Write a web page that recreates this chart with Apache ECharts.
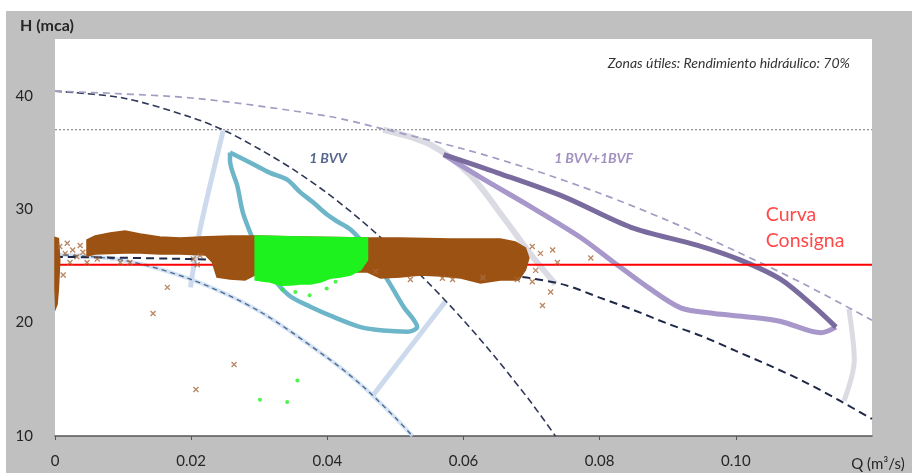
<!DOCTYPE html>
<html>
<head>
<meta charset="utf-8">
<script src="https://cdn.jsdelivr.net/npm/echarts@6/dist/echarts.min.js"></script>
<style>
  html, body { margin: 0; padding: 0; background: #fff; }
  #chart { width: 912px; height: 473px; }
</style>
</head>
<body>
<div id="chart"></div>
<script>
// ---- Axis ticks ----
const xTicks = [0, 0.02, 0.04, 0.06, 0.08, 0.10];
const xTickLabels = ['0', '0.02', '0.04', '0.06', '0.08', '0.10'];
const yTicks = [10, 20, 30, 40];

// ---- Pump curves [Q (m3/s), H (mca)] ----
const curve1BVVmax = [[0,40.4],[0.01,39.8],[0.02,38.1],[0.025,36.9],[0.03,35.3],[0.035,33.5],[0.04,31.4],[0.045,29.0],[0.05,26.3],[0.055,23.4],[0.06,20.2],[0.065,16.7],[0.07,12.9],[0.0735,10]];
const curveParMax = [[0,40.4],[0.02,39.8],[0.04,38.2],[0.048,37.1],[0.06,35.3],[0.07,33.5],[0.08,31.4],[0.09,29.0],[0.10,26.3],[0.11,23.4],[0.12,20.2]];
const curve1BVVmin = [[0,26.0],[0.01,25.5],[0.02,23.8],[0.03,21.0],[0.04,16.9],[0.045,14.5],[0.05,11.6],[0.0525,10]];
const curveParMin = [[0,25.8],[0.02,25.6],[0.04,25.2],[0.06,24.6],[0.065,24.3],[0.07,23.9],[0.075,23.3],[0.08,22.2],[0.085,21.1],[0.09,19.9],[0.095,18.8],[0.10,17.5],[0.105,16.2],[0.11,14.8],[0.115,13.2],[0.12,11.5]];

// ---- 70 % efficiency limits ----
const eff1BVVleft = [[0.0247,36.9],[0.0213,28.2],[0.0199,23.1]];
const eff1BVVright = [[0.0466,13.5],[0.0574,21.9]];
const effParLeft = [[0.0482,37.0],[0.0551,35.7],[0.0610,33.0],[0.0662,29.0],[0.0699,26.0],[0.0735,23.4]];
const effParRight = [[0.1166,21.2],[0.1174,16.7],[0.1159,13.1]];

// ---- Reference lines ----
const hLimit = 37.0;
const hConsigna = 25.1;

// ---- Operating zones ----
const zone1BVV = [[0.0257,35.0],[0.0287,34.1],[0.0316,33.2],[0.0341,32.6],[0.0360,31.5],[0.0379,30.6],[0.0400,29.5],[0.0415,28.9],[0.0434,28.2],[0.0453,27.0],[0.0468,25.8],[0.0482,24.4],[0.0497,22.9],[0.0512,21.4],[0.0532,19.6],[0.0518,19.2],[0.0482,19.3],[0.0449,19.6],[0.0409,20.5],[0.0375,21.4],[0.0346,22.3],[0.0326,23.5],[0.0306,25.3],[0.0291,27.3],[0.0276,29.7],[0.0268,32.0],[0.0257,34.3],[0.0257,35.0]];
const zoneParUpper = [[0.0571,34.8],[0.0650,33.2],[0.0747,31.1],[0.0846,28.4],[0.0944,26.8],[0.1007,25.5],[0.1066,23.8],[0.1115,21.4],[0.1147,19.6]];
const zoneParLower = [[0.1147,19.6],[0.1125,19.1],[0.1066,20.1],[0.1018,20.5],[0.0968,20.8],[0.0919,21.3],[0.0871,23.1],[0.0821,25.3],[0.0772,27.5],[0.0699,30.2],[0.0625,32.8],[0.0571,34.8]];

// ---- Measured operating points: cloud outlines ----
const cloudMain = [[0.0047,27.28],[0.0059,27.63],[0.0081,27.90],[0.0103,28.08],[0.0125,27.81],[0.0154,27.55],[0.0184,27.46],[0.0213,27.55],[0.0257,27.63],[0.0294,27.63],[0.0360,27.55],[0.0459,27.46],[0.0507,27.46],[0.0581,27.37],[0.0654,27.37],[0.0676,27.11],[0.0691,26.58],[0.0696,25.70],[0.0691,24.64],[0.0681,23.76],[0.0654,23.76],[0.0625,23.49],[0.0596,23.93],[0.0566,24.11],[0.0537,24.20],[0.0507,24.02],[0.0478,23.93],[0.0459,24.46],[0.0360,24.46],[0.0294,24.20],[0.0279,23.76],[0.0257,23.84],[0.0238,24.02],[0.0231,25.34],[0.0221,25.96],[0.0184,26.05],[0.0154,26.05],[0.0125,26.14],[0.0103,26.14],[0.0059,26.05],[0.0047,25.87]];
const cloudAxis = [[0.0000,27.5],[0.0005,27.4],[0.0007,25.5],[0.0005,23.0],[0.0003,21.6],[0.0001,21.3],[0.0000,23.0]];
const cloudGreen = [[0.0294,27.63],[0.0360,27.55],[0.0459,27.46],[0.0459,25.52],[0.0449,24.64],[0.0434,24.20],[0.0419,24.02],[0.0404,23.90],[0.0390,23.58],[0.0375,23.40],[0.0360,23.40],[0.0346,23.31],[0.0331,23.30],[0.0316,23.58],[0.0304,23.67],[0.0294,23.76]];

// ---- Isolated measured points ----
const pointsBrown = [[0.0012,24.2],[0.0165,23.1],[0.0144,20.8],[0.0263,16.3],[0.0207,14.1],[0.0569,23.9],[0.0584,23.8],[0.0629,23.9],[0.0471,24.5],[0.0522,23.8],[0.0701,26.7],[0.0713,26.1],[0.0731,26.4],[0.0706,24.6],[0.0701,23.6],[0.0728,22.7],[0.0716,21.5],[0.0679,23.8],[0.0787,25.7],[0.0738,25.3],[0.0628,24.0],[0.0018,27.0],[0.0026,26.4],[0.0015,26.1],[0.0037,26.8],[0.0032,25.8],[0.0041,26.2],[0.0047,25.3],[0.0062,25.6],[0.0110,25.3],[0.0096,25.3],[0.0203,25.6],[0.0209,25.1],[0.0213,25.9],[0.0022,25.3],[0.0007,26.7]];
const pointsGreen = [[0.0356,14.9],[0.0301,13.2],[0.0341,13.0],[0.0334,22.9],[0.0374,22.4],[0.0399,23.0],[0.0412,23.6],[0.0353,22.7]];

const BROWN = '#9c5212';
const GREEN = '#1ef21e';

function polygon(name, pts, color, z) {
  return {
    name: name, type: 'custom', z: z, silent: true, clip: false,
    data: [[pts[0][0], pts[0][1]]],
    renderItem: function (params, api) {
      return {
        type: 'polygon',
        shape: { points: pts.map(function (p) { return api.coord(p); }) },
        style: { fill: color, stroke: color, lineWidth: 1.5 }
      };
    }
  };
}

function line(name, data, color, width, type, z, smooth) {
  return {
    name: name, type: 'line', data: data, z: z, silent: true,
    showSymbol: false, smooth: smooth === undefined ? 0.3 : smooth,
    lineStyle: { color: color, width: width, type: type }
  };
}

function label(text, pos, style, z) {
  return {
    type: 'scatter', data: [pos], symbolSize: 0, z: z, silent: true,
    label: Object.assign({ show: true, position: [0, 0], formatter: text }, style)
  };
}

const chart = echarts.init(document.getElementById('chart'), null, { renderer: 'canvas' });
chart.setOption({
  animation: false,
  backgroundColor: '#ffffff',
  graphic: [{
    type: 'rect', z: -10, silent: true,
    shape: { x: 6, y: 11, width: 906, height: 462 },
    style: { fill: '#c0c0c0' }
  }],
  title: {
    text: 'Zonas útiles: Rendimiento hidráulico: 70%',
    right: 57, top: 51,
    textStyle: { fontFamily: 'Lato', fontStyle: 'italic', fontWeight: 'normal', fontSize: 14, color: '#333' }
  },
  grid: { left: 55, right: 40, top: 39, bottom: 37, show: true, backgroundColor: '#ffffff', borderWidth: 0 },
  xAxis: {
    type: 'value', min: 0, max: 0.12, interval: 0.02,
    name: 'Q (m³/s)', nameLocation: 'end', nameGap: 6,
    nameTextStyle: { fontFamily: 'Lato', fontSize: 15, color: '#262626', align: 'center', verticalAlign: 'top', padding: [21, 0, 0, 0] },
    axisLine: { lineStyle: { color: '#555', width: 1.5 } },
    axisTick: { show: true, length: 4, lineStyle: { color: '#555' } },
    splitLine: { show: false },
    axisLabel: {
      margin: 18, fontFamily: 'Lato', fontSize: 15, color: '#262626', showMaxLabel: false,
      formatter: function (v) {
        const i = xTicks.findIndex(function (t) { return Math.abs(t - v) < 1e-9; });
        return i >= 0 ? xTickLabels[i] : '';
      }
    }
  },
  yAxis: {
    type: 'value', min: 10, max: 45, interval: 10,
    name: 'H (mca)', nameLocation: 'end', nameGap: 5,
    nameTextStyle: { fontFamily: 'Lato', fontWeight: 'bold', fontSize: 16, color: '#262626', align: 'center', padding: [0, 16, 0, 0] },
    axisLine: { show: false }, axisTick: { show: false }, splitLine: { show: false },
    axisLabel: {
      margin: 22, fontFamily: 'Lato', fontSize: 15, color: '#262626', showMaxLabel: false,
      formatter: function (v) { return yTicks.indexOf(v) >= 0 ? String(v) : ''; }
    }
  },
  series: [
    // efficiency limits
    line('eff1', eff1BVVleft, 'rgba(196,212,234,0.85)', 5, 'solid', 1),
    line('eff2', eff1BVVright, 'rgba(196,212,234,0.85)', 5, 'solid', 1),
    line('eff3', effParLeft, 'rgba(215,215,225,0.9)', 6, 'solid', 1),
    line('eff4', effParRight, 'rgba(215,215,225,0.9)', 5, 'solid', 1),
    // reference levels
    line('limit', [[0, hLimit], [0.12, hLimit]], '#777', 1, [2, 2], 2, false),
    // pump curves
    line('1BVV min halo', curve1BVVmin, 'rgba(200,220,240,0.8)', 4, 'solid', 2),
    line('1BVV min', curve1BVVmin, '#4f6a92', 1.4, [5, 4], 3),
    line('1BVV max', curve1BVVmax, '#2f3858', 1.6, [7, 4], 3),
    line('par max', curveParMax, '#a39cc2', 1.7, [7, 5], 3),
    line('par min', curveParMin, '#1f2848', 2, [8, 5], 3),
    // operating zones
    line('zone 1BVV', zone1BVV, '#6db5c9', 4.5, 'solid', 4),
    line('zone par lower', zoneParLower, '#a797ca', 5, 'solid', 4),
    line('zone par upper', zoneParUpper, '#7a6b9f', 5, 'solid', 4),
    // set point
    line('consigna', [[0, hConsigna], [0.12, hConsigna]], '#ff0000', 2, 'solid', 5, false),
    // measured points
    polygon('cloud', cloudMain, BROWN, 6),
    polygon('cloud axis', cloudAxis, BROWN, 6),
    polygon('cloud green', cloudGreen, GREEN, 7),
    {
      name: 'points', type: 'scatter', data: pointsBrown, z: 6, silent: true,
      symbol: 'path://M0,0L10,10M10,0L0,10', symbolSize: 5,
      itemStyle: { color: 'rgba(214,170,130,0.5)', borderColor: '#a8683a', borderWidth: 1.3 }
    },
    {
      name: 'points green', type: 'scatter', data: pointsGreen, z: 7, silent: true,
      symbol: 'circle', symbolSize: 4, itemStyle: { color: GREEN }
    },
    // annotations
    label('1 BVV', [0.0401, 34.5], { align: 'center', verticalAlign: 'middle', fontFamily: 'Lato', fontStyle: 'italic', fontWeight: 'bold', fontSize: 14, color: '#2b3f70' }, 10),
    label('1 BVV+1BVF', [0.0791, 34.5], { align: 'center', verticalAlign: 'middle', fontFamily: 'Lato', fontStyle: 'italic', fontWeight: 'bold', fontSize: 14, color: '#8a74b0' }, 10),
    label('Curva\nConsigna', [0.1044, 28.35], { align: 'left', verticalAlign: 'middle', lineHeight: 26, fontFamily: 'Lato', fontSize: 19.5, color: '#ff1a1a' }, 10)
  ]
});
</script>
</body>
</html>
